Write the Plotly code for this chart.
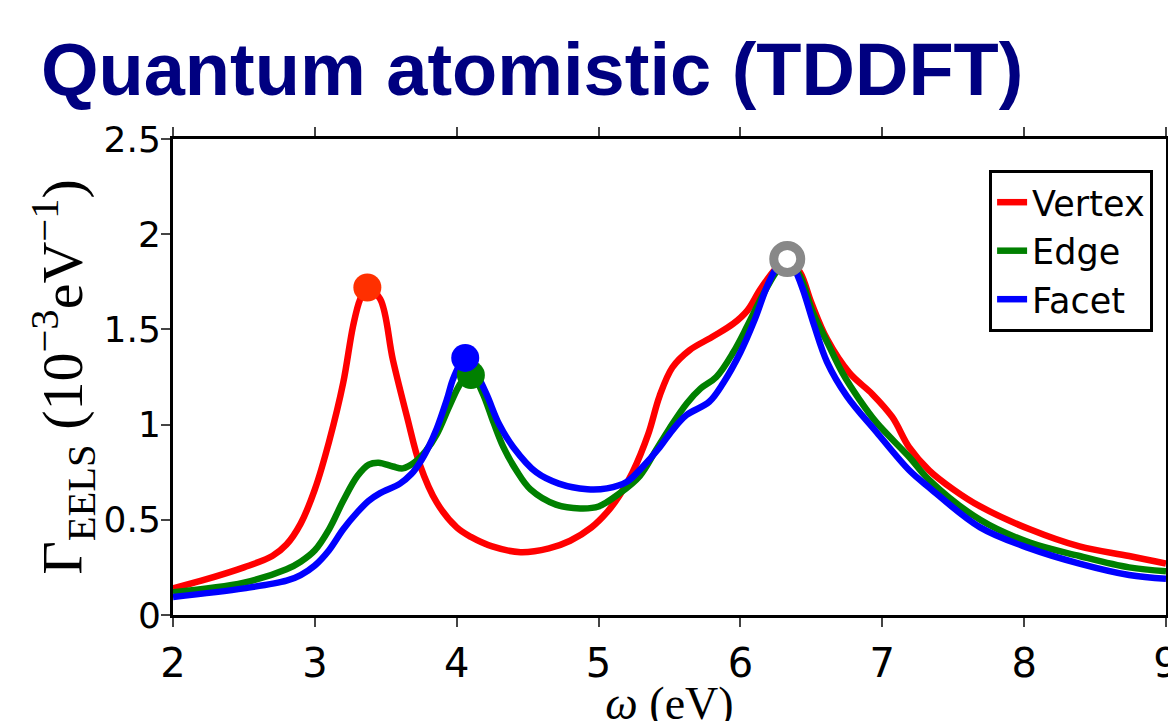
import plotly.graph_objects as go

# ---- data ----
vertex_x = [2.0, 2.2, 2.5, 2.7, 2.8, 2.9, 3.0, 3.1, 3.2, 3.27, 3.32, 3.37, 3.46, 3.55, 3.65, 3.74, 3.86,
            4.0, 4.1, 4.25, 4.45, 4.65, 4.8, 4.95, 5.06, 5.15, 5.24, 5.35, 5.43, 5.52, 5.64, 5.8, 5.95,
            6.05, 6.14, 6.25, 6.33, 6.42, 6.5, 6.61, 6.77, 6.93, 7.07, 7.19, 7.33, 7.5, 7.69, 8.04, 8.39,
            8.74, 9.0]
vertex_y = [0.14, 0.18, 0.25, 0.31, 0.37, 0.48, 0.66, 0.91, 1.22, 1.52, 1.66, 1.72, 1.66, 1.34, 1.04, 0.79, 0.59,
            0.46, 0.41, 0.36, 0.33, 0.35, 0.39, 0.46, 0.54, 0.63, 0.75, 0.95, 1.15, 1.30, 1.39, 1.46, 1.53,
            1.60, 1.71, 1.82, 1.87, 1.80, 1.64, 1.45, 1.27, 1.16, 1.04, 0.88, 0.76, 0.66, 0.57, 0.45, 0.36,
            0.31, 0.27]

edge_x = [2.0, 2.5, 2.8, 2.9, 3.0, 3.1, 3.2, 3.3, 3.38, 3.45, 3.55, 3.62, 3.7, 3.78, 3.86, 3.95, 4.03, 4.1,
          4.18, 4.26, 4.33, 4.42, 4.52, 4.7, 4.87, 5.0, 5.15, 5.29, 5.4, 5.5, 5.62, 5.72, 5.83, 5.95,
          6.05, 6.15, 6.25, 6.33, 6.42, 6.51, 6.62, 6.72, 6.84, 6.96, 7.19, 7.33, 7.69, 8.04, 8.39,
          8.74, 9.0]
edge_y = [0.12, 0.17, 0.24, 0.28, 0.34, 0.45, 0.60, 0.73, 0.79, 0.80, 0.78, 0.77, 0.80, 0.86, 0.95, 1.10, 1.22, 1.27,
          1.17, 1.01, 0.88, 0.76, 0.66, 0.58, 0.56, 0.57, 0.64, 0.73, 0.86, 0.98, 1.11, 1.19, 1.25, 1.38,
          1.52, 1.67, 1.80, 1.87, 1.78, 1.59, 1.42, 1.27, 1.13, 1.01, 0.83, 0.71, 0.50, 0.38, 0.31,
          0.25, 0.23]

facet_x = [2.0, 2.5, 2.8, 2.9, 3.0, 3.1, 3.2, 3.3, 3.38, 3.46, 3.6, 3.68, 3.74, 3.8, 3.86, 3.93, 3.98, 4.06,
           4.13, 4.21, 4.3, 4.4, 4.56, 4.72, 4.92, 5.06, 5.2, 5.3, 5.43, 5.52, 5.62, 5.78, 5.88, 6.0,
           6.1, 6.19, 6.27, 6.33, 6.38, 6.44, 6.52, 6.61, 6.75, 6.96, 7.19, 7.33, 7.69, 8.04, 8.39,
           8.74, 9.0]
facet_y = [0.095, 0.14, 0.18, 0.21, 0.26, 0.34, 0.45, 0.54, 0.60, 0.64, 0.69, 0.74, 0.80, 0.88, 0.98, 1.13, 1.25, 1.35,
           1.28, 1.16, 1.00, 0.88, 0.75, 0.69, 0.66, 0.665, 0.70, 0.77, 0.88, 0.97, 1.05, 1.12, 1.22, 1.38,
           1.55, 1.73, 1.84, 1.87, 1.82, 1.71, 1.52, 1.33, 1.15, 0.96, 0.76, 0.67, 0.46, 0.35, 0.27,
           0.21, 0.19]

# highlighted peaks
peak_x = [3.37, 4.10, 4.06]
peak_y = [1.72, 1.26, 1.35]
peak_colors = ["#ff3000", "#008000", "#0000ff"]
common_peak_x = [6.33]
common_peak_y = [1.87]

series_names = ["Vertex", "Edge", "Facet"]
series_colors = ["#ff0000", "#008000", "#0000ff"]

x_ticks = [2, 3, 4, 5, 6, 7, 8, 9]
y_ticks = [0, 0.5, 1, 1.5, 2, 2.5]

fig = go.Figure()
for name, color, xs, ys in zip(series_names, series_colors,
                               [vertex_x, edge_x, facet_x], [vertex_y, edge_y, facet_y]):
    fig.add_trace(go.Scatter(x=xs, y=ys, mode="lines", name=name,
                             line=dict(color=color, width=6.5, shape="spline", smoothing=1.0)))

for px, py, pc in zip(peak_x, peak_y, peak_colors):
    fig.add_trace(go.Scatter(x=[px], y=[py], mode="markers", showlegend=False,
                             marker=dict(size=28, color=pc, line=dict(width=0))))

fig.add_trace(go.Scatter(x=common_peak_x, y=common_peak_y, mode="markers", showlegend=False,
                         marker=dict(size=27, color="white", line=dict(width=9, color="#888888"))))

fig.update_layout(
    width=1176, height=721,
    margin=dict(l=165, r=18, t=131, b=114),
    paper_bgcolor="white", plot_bgcolor="white",
    font=dict(family="DejaVu Sans, sans-serif", color="black", size=36),
    title=dict(text="<b>Quantum atomistic (TDDFT)</b>",
               font=dict(family="Liberation Sans, Arial, sans-serif", size=74, color="#000080"),
               xref="container", x=0.028, xanchor="left",
               yref="container", y=1 - 61 / 721, yanchor="middle"),
    xaxis=dict(range=[2, 9], tickvals=x_ticks, ticks="outside", ticklen=9, tickwidth=2,
               showline=True, linewidth=3, linecolor="black", mirror="ticks",
               showgrid=False, zeroline=False, automargin=False,
               tickfont=dict(family="DejaVu Sans, sans-serif", size=40, color="black"),
               ticklabeloverflow="allow", ticklabelstandoff=2,
               title=dict(text="<i>ω</i> (eV)", standoff=0,
                          font=dict(family="Liberation Serif, DejaVu Serif, serif", size=46))),
    yaxis=dict(range=[0, 2.5], tickvals=y_ticks, ticks="outside", ticklen=9, tickwidth=2,
               showline=True, linewidth=3, linecolor="black", mirror="ticks",
               showgrid=False, zeroline=False, automargin=False,
               tickfont=dict(family="DejaVu Sans, sans-serif", size=36, color="black"),
               ticklabeloverflow="allow", ticklabelstandoff=-7,
               title=dict(text="Γ<sub>EELS</sub> (10<sup>−3</sup>eV<sup>−1</sup>)", standoff=0,
                          font=dict(family="Liberation Serif, DejaVu Serif, serif", size=58))),
    legend=dict(x=0.987, xanchor="right", y=0.935, yanchor="top",
                bgcolor="white", bordercolor="black", borderwidth=3,
                font=dict(family="DejaVu Sans, sans-serif", size=35), itemwidth=30, tracegroupgap=0),
    showlegend=True,
)

fig.write_html("out.html")
